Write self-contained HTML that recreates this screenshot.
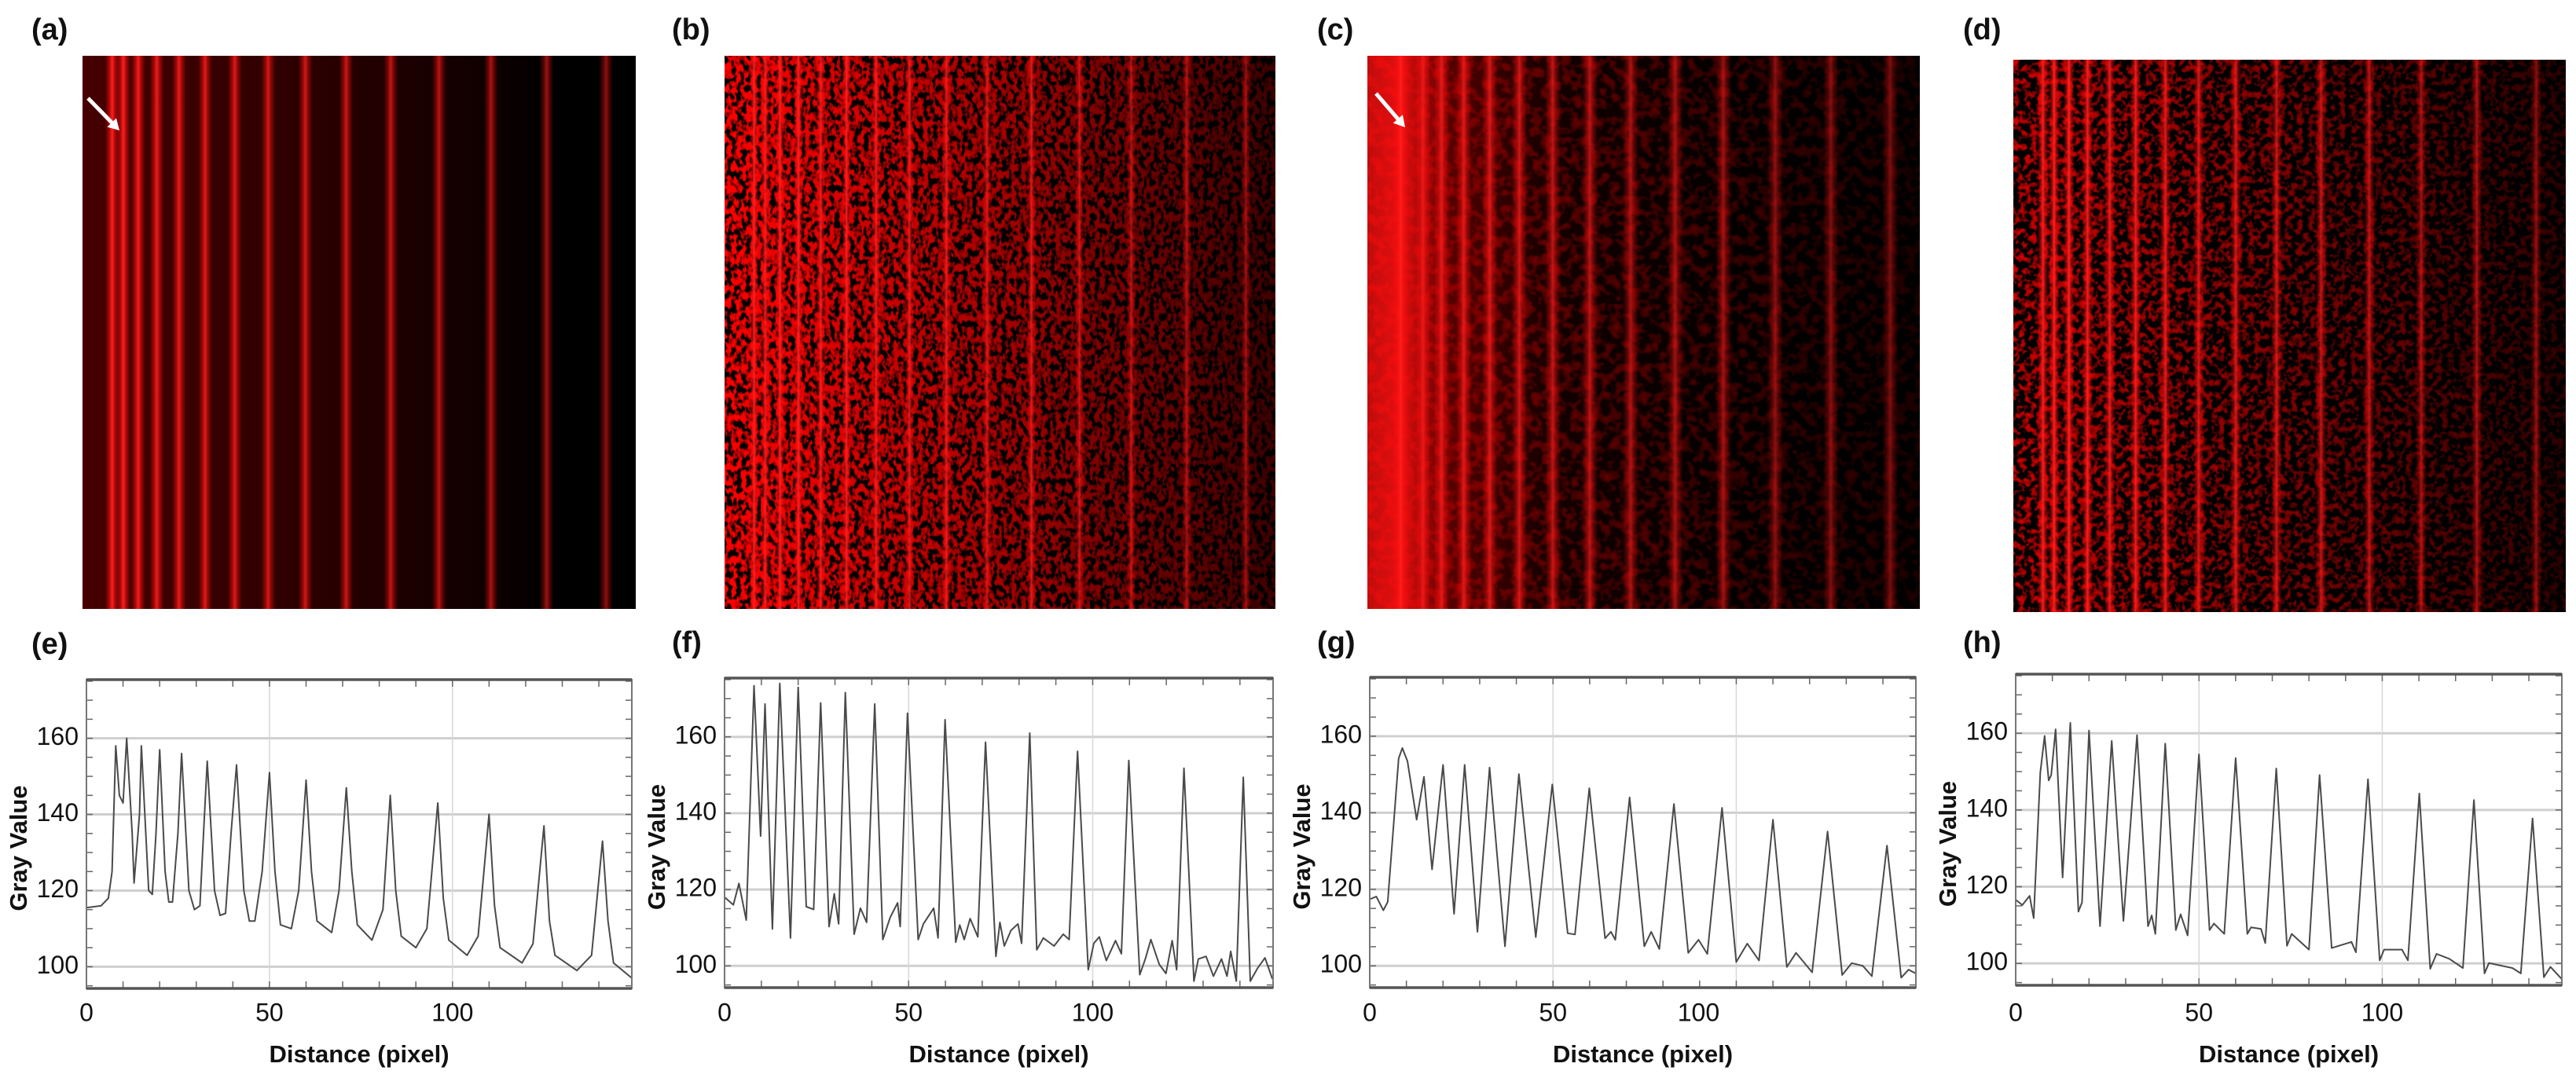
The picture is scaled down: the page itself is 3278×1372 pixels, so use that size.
<!DOCTYPE html>
<html>
<head>
<meta charset="utf-8">
<style>
  html,body{margin:0;padding:0;background:#fff;}
  body{width:3278px;height:1372px;overflow:hidden;}
  svg{display:block;font-family:"Liberation Sans",sans-serif;}
</style>
</head>
<body>
<svg id="fig" width="3278" height="1372" viewBox="0 0 3278 1372" xmlns="http://www.w3.org/2000/svg">
  <defs>
    <linearGradient id="stripeGrad" x1="0" y1="0" x2="1" y2="0">
      <stop offset="0" stop-color="#ff1010" stop-opacity="0"/>
      <stop offset="0.3" stop-color="#ff1010" stop-opacity="0.55"/>
      <stop offset="0.5" stop-color="#ff2020" stop-opacity="1"/>
      <stop offset="0.7" stop-color="#ff1010" stop-opacity="0.55"/>
      <stop offset="1" stop-color="#ff1010" stop-opacity="0"/>
    </linearGradient>
    <linearGradient id="bgA" x1="0" y1="0" x2="1" y2="0">
      <stop offset="0" stop-color="#460000"/>
      <stop offset="0.4" stop-color="#2c0000"/>
      <stop offset="0.7" stop-color="#120000"/>
      <stop offset="0.85" stop-color="#000"/>
      <stop offset="1" stop-color="#000"/>
    </linearGradient>
    <linearGradient id="darkR" x1="0" y1="0" x2="1" y2="0">
      <stop offset="0" stop-color="#000" stop-opacity="0"/>
      <stop offset="0.5" stop-color="#000" stop-opacity="0.35"/>
      <stop offset="1" stop-color="#000" stop-opacity="0.75"/>
    </linearGradient>
    <linearGradient id="glowC" x1="0" y1="0" x2="1" y2="0">
      <stop offset="0" stop-color="#ff1010" stop-opacity="0.75"/>
      <stop offset="0.06" stop-color="#ff1010" stop-opacity="0.9"/>
      <stop offset="0.15" stop-color="#c00000" stop-opacity="0.45"/>
      <stop offset="0.35" stop-color="#600000" stop-opacity="0.2"/>
      <stop offset="1" stop-color="#000" stop-opacity="0"/>
    </linearGradient>
    <filter id="noiseB" x="0" y="0" width="100%" height="100%">
      <feTurbulence type="fractalNoise" baseFrequency="0.16 0.11" numOctaves="2" seed="3"/>
      <feColorMatrix type="matrix" values="5 0 0 0 -2.1  0 0 0 0 0  0 0 0 0 0  0 0 0 0 1"/>
    </filter>
    <filter id="noiseC" x="0" y="0" width="100%" height="100%">
      <feTurbulence type="fractalNoise" baseFrequency="0.08 0.08" numOctaves="2" seed="7"/>
      <feColorMatrix type="matrix" values="2.2 0 0 0 -1.05  0 0 0 0 0  0 0 0 0 0  0 0 0 0 1"/>
    </filter>
    <filter id="noiseD" x="0" y="0" width="100%" height="100%">
      <feTurbulence type="fractalNoise" baseFrequency="0.13 0.12" numOctaves="2" seed="11"/>
      <feColorMatrix type="matrix" values="3.6 0 0 0 -1.7  0 0 0 0 0  0 0 0 0 0  0 0 0 0 1"/>
    </filter>
  </defs>
  <g id="images"></g>
  <g id="charts"></g>
  <g id="labels"></g>
</svg>
<script>
// ---------- chart data ----------
const xTicks = [0, 50, 100];
const yTicks = [100, 120, 140, 160];
const xDomain = [0, 149];
const yDomain = [94.3, 175.4];

const eX = [0,4,6,7,8,9,10,11,12.5,13,14.5,15,17,18,19,20,21.5,22.5,23.5,25,26,28,29.5,31,32,33,35,36.5,38,39.5,41,43,44.5,46,48,50,51.5,53,56,58,60,61.5,63,67,69,71,72.5,74,78,81,83,84.5,86,90,93,96,97.5,99,104,107,110,111.5,113,119,122,125,126.5,128,134,138,141,142.5,144,149];
const eY = [115.5,116,118,125,158,145,143,160,135,122,140,158,120,119,135,157,125,117,117,135,156,120,115,116,135,154,120,113.5,114,135,153,120,112,112,125,151,125,111,110,120,149,125,112,109,120,147,125,111,107,115,145,120,108,105,110,143,118,107,103,108,140,116,105,101,106,137,112,103,99,103,133,112,101,97];

const fX = [0,2.4,3.9,5.9,8,9.8,11,13,15,17.9,20,22.2,24.2,26.1,28.4,29.8,31,32.8,35.2,36.9,38.6,40.8,43,45,47,47.7,49.7,52.6,54,56.8,58,59.9,62.8,63.9,65.1,66.7,68.8,70.9,73.7,74.8,76,77.8,79.7,80.7,82.9,84.8,86.6,89.5,92,93.6,95.9,98.8,100.3,101.8,103.7,106.2,107.8,109.8,112.8,114.3,115.8,118.1,119.9,121.6,122.8,124.8,127.5,128.7,130.8,132.8,135,136.5,137.5,139,140.9,142.8,144.8,146.8,148.8];
const fY = [118,116,121.6,112,173.4,134,168.6,109.7,174,107.3,173,115.5,114.8,168.9,110.3,118.9,111,171.6,108.3,115.1,111.4,168.6,106.9,112.7,116.5,110.3,166.2,106.9,111,115.1,107.3,164.5,106.2,110.7,106.9,112.4,107.6,158.6,102.5,111.4,105.2,109.3,111,105.9,161,104.2,107.3,105.2,108.3,106.9,156.2,99,105.9,107.6,101.4,106.6,103.2,153.8,97.7,101.8,106.9,100.4,98,106.6,99,151.8,96,101.8,102.5,97.3,101.8,97.3,103.8,96,149.4,96,99.4,102.1,96.6];

const gX = [0,1.8,3.7,4.9,7.9,8.9,10.3,12.8,14.8,17,20,23,25.9,29.4,32.7,36.9,40.7,45.3,49.8,54,56,59.9,64.2,65.8,67,70.9,74.9,76.8,79,83,86.9,89.7,92.1,96.1,100,103,106.2,110,113.8,116.3,120.7,124.9,128.9,131.5,134.5,137,141.1,145,147,149];
const gY = [117.4,118.1,114.5,116.7,154.2,156.9,153.5,138.2,149.4,125.2,152.5,113.6,152.5,108.9,151.8,105.1,150.1,107.5,147.4,108.5,108.2,146.4,107.2,108.9,106.8,144,105.1,108.9,104.4,142.3,103.4,106.8,103.1,141.3,101,105.8,101.4,138.2,99.7,103.4,98.3,135.1,97.6,100.7,100,97.3,131.4,96.9,99,98];

const hX = [0,1.8,3.8,4.9,6.7,7.9,9,9.7,10.9,12.8,14.9,17.1,18.1,20,23,26.2,29.4,33.1,36.1,37.1,38.1,40.8,43.7,45,46.9,50,52.9,54.1,56.9,60,63.2,64.2,66.9,68.1,71.1,74,75.3,80,82.9,86.2,91.6,92.8,96.1,99.3,100.5,105.4,107,110.1,113.1,114.8,118.3,122,125,127.9,129.1,135.5,137.8,141,144.1,145.9,148.9];
const hY = [116.6,115.2,117.6,111.8,149.7,159.3,147.7,149.1,161,122.4,162.7,113.5,115.9,160.7,109.7,158,111.1,159.5,109.7,112.5,107.7,157.3,108.7,112.8,107.3,154.5,108.7,110.4,107.7,153.5,107.7,109.4,109,105.3,150.8,104.6,107.7,103.6,149.1,104,105.6,102.9,148,100.8,103.6,103.6,100.8,144.3,98.6,102.5,101.2,98.8,142.6,97.4,100.1,98.8,97.4,137.8,96.4,99.1,96];

// stripe positions in the images (profile-distance units) with relative brightness
const stripesA = [8,11,15,20,26,33,41,50,60,71,83,96,110,125,141];
const brightA  = [1,1,0.95,0.9,0.88,0.85,0.83,0.8,0.78,0.75,0.72,0.7,0.65,0.6,0.55];
const stripesB = [8,11,15,20,26,33,41,50,60,71,83,96,110,125,141];
const brightB  = [1,0.9,1,1,0.9,0.95,0.9,0.85,0.85,0.75,0.8,0.7,0.65,0.6,0.55];
const stripesC = [9,15,20,26,33,41,50,60,71,83,96,110,125,141];
const brightC  = [0.9,0.75,0.8,0.8,0.78,0.75,0.7,0.68,0.62,0.6,0.58,0.52,0.48,0.45];
const stripesD = [8,11,15,20,26,33,41,50,60,71,83,96,110,125,141];
const brightD  = [0.95,1,1,0.95,0.9,0.92,0.88,0.82,0.8,0.75,0.72,0.7,0.62,0.6,0.52];

const NS = "http://www.w3.org/2000/svg";
function mk(tag, attrs, parent){
  const el = document.createElementNS(NS, tag);
  for (const k in attrs) el.setAttribute(k, attrs[k]);
  parent.appendChild(el);
  return el;
}
const gImg = document.getElementById('images');
const gCh = document.getElementById('charts');
const gLab = document.getElementById('labels');

function panelLabel(txt, x, y, name){
  const t = mk('text', {x:x, y:y, 'font-size':38, 'font-weight':'bold', fill:'#111', 'dominant-baseline':'middle'}, gLab);
  
  
  t.textContent = txt;
}

function stripes(L, W, T, H, pos, bright, width, name){
  const g = mk('g', {}, gImg);
  
  
  pos.forEach((p, i) => {
    const cx = L + (p - xDomain[0]) / (xDomain[1] - xDomain[0]) * W;
    const r = mk('rect', {x: cx - width/2, y: T, width: width, height: H, fill: 'url(#stripeGrad)', opacity: bright[i]}, g);
    
    
  });
  return g;
}

function arrow(x1, y1, x2, y2, name){
  const g = mk('g', {}, gImg);
  
  
  const ang = Math.atan2(y2 - y1, x2 - x1);
  const hx = x2 - 14*Math.cos(ang), hy = y2 - 14*Math.sin(ang);
  mk('line', {x1:x1, y1:y1, x2:hx, y2:hy, stroke:'#fff', 'stroke-width':5}, g);
  const p1x = hx + 8*Math.cos(ang + Math.PI/2), p1y = hy + 8*Math.sin(ang + Math.PI/2);
  const p2x = hx + 8*Math.cos(ang - Math.PI/2), p2y = hy + 8*Math.sin(ang - Math.PI/2);
  mk('polygon', {points: `${x2},${y2} ${p1x},${p1y} ${p2x},${p2y}`, fill:'#fff'}, g);
}

// (a)
(function(){
  const L=105,T=71,W=704,H=704;
  const bg = mk('rect',{x:L,y:T,width:W,height:H,fill:'url(#bgA)'},gImg);
  
  
  stripes(L,W,T,H,stripesA,brightA,18,'image-a-stripes');
  arrow(112,125,152,166,'arrow-a');
})();
// (b)
(function(){
  const L=922,T=71,W=701,H=704;
  const bg = mk('rect',{x:L,y:T,width:W,height:H,fill:'#000'},gImg);
  
  
  mk('rect',{x:L,y:T,width:W,height:H,filter:'url(#noiseB)'},gImg);
  mk('rect',{x:L,y:T,width:W,height:H,fill:'url(#darkR)'},gImg);
  stripes(L,W,T,H,stripesB,brightB,12,'image-b-stripes');
})();
// (c)
(function(){
  const L=1740,T=71,W=703,H=704;
  const bg = mk('rect',{x:L,y:T,width:W,height:H,fill:'#000'},gImg);
  
  
  mk('rect',{x:L,y:T,width:W,height:H,filter:'url(#noiseC)',opacity:0.6},gImg);
  mk('rect',{x:L,y:T,width:W,height:H,fill:'url(#darkR)'},gImg);
  mk('rect',{x:L,y:T,width:W,height:H,fill:'url(#glowC)'},gImg);
  stripes(L,W,T,H,stripesC,brightC,20,'image-c-stripes');
  arrow(1751,119,1788,162,'arrow-c');
})();
// (d)
(function(){
  const L=2562,T=76,W=703,H=703;
  const bg = mk('rect',{x:L,y:T,width:W,height:H,fill:'#000'},gImg);
  
  
  mk('rect',{x:L,y:T,width:W,height:H,filter:'url(#noiseD)',opacity:0.8},gImg);
  mk('rect',{x:L,y:T,width:W,height:H,fill:'url(#darkR)'},gImg);
  stripes(L,W,T,H,stripesD,brightD,14,'image-d-stripes');
})();

panelLabel('(a)', 40, 40, 'panel-label-a');
panelLabel('(b)', 855, 40, 'panel-label-b');
panelLabel('(c)', 1676, 40, 'panel-label-c');
panelLabel('(d)', 2498, 40, 'panel-label-d');

function chart(cfg){
  const {L,T,R,B,xs,ys,name,labelShift} = cfg;
  const g = mk('g', {}, gCh);
  
  
  const sx = v => L + (v - xDomain[0]) / (xDomain[1] - xDomain[0]) * (R - L);
  const sy = v => B - (v - yDomain[0]) / (yDomain[1] - yDomain[0]) * (B - T);

  yTicks.forEach(v => {
    const l = mk('line',{x1:L,x2:R,y1:sy(v),y2:sy(v),stroke:'#cfcfcf','stroke-width':3},g);
    
    
  });
  xTicks.forEach(v => {
    if (v === 0) return;
    const l = mk('line',{x1:sx(v),x2:sx(v),y1:T,y2:B,stroke:'#d8d8d8','stroke-width':1.5},g);
    
    
  });
  for (let v = 10; v < xDomain[1]; v += 10){
    mk('line',{x1:sx(v),x2:sx(v),y1:B,y2:B-9,stroke:'#666','stroke-width':1.5},g);
    mk('line',{x1:sx(v),x2:sx(v),y1:T,y2:T+9,stroke:'#666','stroke-width':1.5},g);
  }
  for (let v = 95; v < yDomain[1]; v += 5){
    mk('line',{x1:L,x2:L+8,y1:sy(v),y2:sy(v),stroke:'#666','stroke-width':1.5},g);
    mk('line',{x1:R,x2:R-8,y1:sy(v),y2:sy(v),stroke:'#666','stroke-width':1.5},g);
  }
  const pts = xs.map((x, i) => `${sx(x).toFixed(1)},${sy(ys[i]).toFixed(1)}`).join(' ');
  const line = mk('polyline',{points:pts,fill:'none',stroke:'#4a4a4a','stroke-width':2,'stroke-linejoin':'round'},g);
  
  
  const fr = mk('rect',{x:L,y:T,width:R-L,height:B-T,fill:'none',stroke:'#777','stroke-width':2},g);
  
  
  mk('line',{x1:L,x2:R,y1:T,y2:T,stroke:'#555','stroke-width':3.5},g);
  mk('line',{x1:L,x2:R,y1:B,y2:B,stroke:'#555','stroke-width':3.5},g);

  yTicks.forEach(v => {
    const t = mk('text',{x:L-10,y:sy(v),'font-size':32,fill:'#111','text-anchor':'end','dominant-baseline':'middle'},g);
    
    
    t.textContent = v;
  });
  xTicks.forEach(v => {
    const shift = (labelShift && labelShift[v]) ? labelShift[v] : 0;
    const t = mk('text',{x:sx(v)+shift,y:1291,'font-size':32,fill:'#111','text-anchor':'middle','dominant-baseline':'middle'},g);
    
    
    t.textContent = v;
  });
  const xt = mk('text',{x:(L+R)/2,y:1344,'font-size':31,'font-weight':'bold',fill:'#111','text-anchor':'middle','dominant-baseline':'middle'},g);
  
  
  xt.textContent = 'Distance (pixel)';
  const yc = (T+B)/2 + 18;
  const yt = mk('text',{x:L-84,y:yc,'font-size':31,'font-weight':'bold',fill:'#111','text-anchor':'middle','dominant-baseline':'middle',transform:`rotate(-90 ${L-84} ${yc})`},g);
  
  
  yt.textContent = 'Gray Value';
}

chart({L:110,T:865,R:804,B:1258,xs:eX,ys:eY,name:'chart-e'});
chart({L:922,T:863,R:1620,B:1257,xs:fX,ys:fY,name:'chart-f'});
chart({L:1743,T:862,R:2438,B:1257,xs:gX,ys:gY,name:'chart-g',labelShift:{100:-48}});
chart({L:2565,T:858,R:3260,B:1254,xs:hX,ys:hY,name:'chart-h'});

panelLabel('(e)', 40, 822, 'panel-label-e');
panelLabel('(f)', 855, 820, 'panel-label-f');
panelLabel('(g)', 1676, 820, 'panel-label-g');
panelLabel('(h)', 2498, 820, 'panel-label-h');
</script>
</body>
</html>
